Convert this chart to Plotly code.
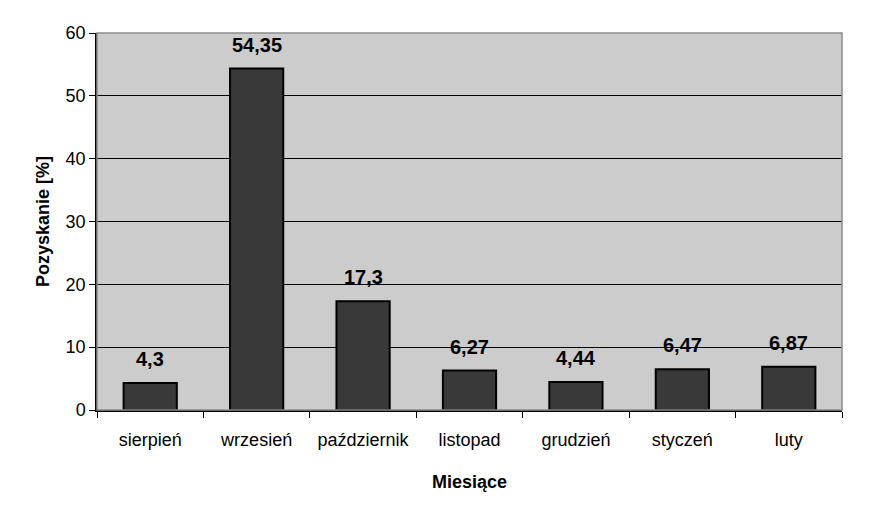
import plotly.graph_objects as go

months = ["sierpień", "wrzesień", "październik", "listopad", "grudzień", "styczeń", "luty"]
values = [4.3, 54.35, 17.3, 6.27, 4.44, 6.47, 6.87]
y_ticks = [0, 10, 20, 30, 40, 50, 60]

FONT = "Liberation Sans, Arial, sans-serif"

fig = go.Figure()
fig.add_trace(go.Bar(
    x=months, y=values,
    marker=dict(color="#393939", line=dict(color="#000000", width=2)),
    width=0.5,
))

for m, v in zip(months, values):
    fig.add_annotation(
        x=m, y=v, text=f"<b>{str(v).replace('.', ',')}</b>",
        showarrow=False, yanchor="bottom", yshift=11,
        font=dict(family=FONT, size=20, color="#000000"),
    )

fig.add_shape(type="rect", xref="paper", yref="paper", x0=0, x1=1, y0=0, y1=1,
              line=dict(color="#8c8c8c", width=1.5), layer="above")

fig.update_layout(
    width=873, height=497,
    margin=dict(l=89, r=39, t=25, b=95),
    paper_bgcolor="#ffffff",
    plot_bgcolor="#cccccc",
    showlegend=False,
    font=dict(family=FONT, size=18, color="#000000"),
    xaxis=dict(
        title=dict(text="<b>Miesiące</b>", font=dict(family=FONT, size=18), standoff=26),
        showline=True, linecolor="#000000", linewidth=1.5,
        ticks="outside", ticklen=6, tickcolor="#000000", tickson="boundaries",
        showgrid=False, ticklabelstandoff=13,
        tickfont=dict(family=FONT, size=18, color="#000000"),
    ),
    yaxis=dict(
        title=dict(text="<b>Pozyskanie [%]</b>", font=dict(family=FONT, size=18), standoff=11),
        range=[0, 60], tickvals=y_ticks,
        showline=True, linecolor="#000000", linewidth=1.5,
        ticks="outside", ticklen=6, tickcolor="#000000",
        showgrid=True, gridcolor="#000000", gridwidth=1,
        zeroline=False,
        tickfont=dict(family=FONT, size=18, color="#000000"),
    ),
)

fig.write_html("out.html")
